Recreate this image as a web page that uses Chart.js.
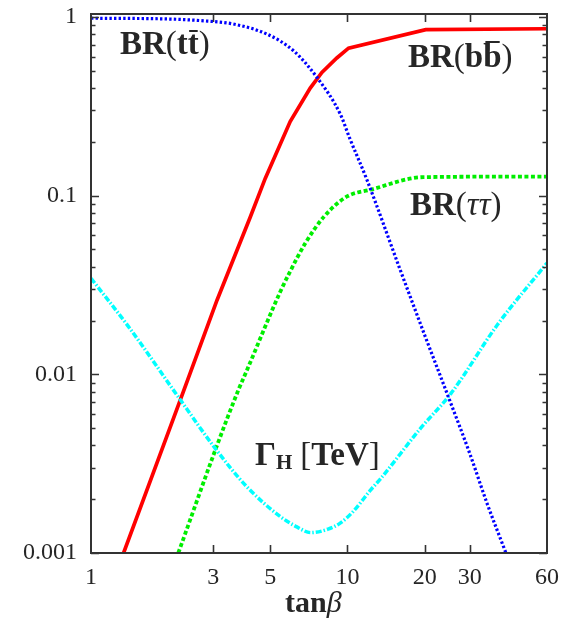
<!DOCTYPE html>
<html><head><meta charset="utf-8">
<script src="https://cdn.jsdelivr.net/npm/chart.js@4/dist/chart.umd.min.js"></script>
<style>html,body{margin:0;padding:0;background:#fff;} canvas{display:block;}</style>
</head><body>
<canvas id="c" width="575" height="618"></canvas>
<script>
// ---- tick definitions ----
const xTickValues = [1, 3, 5, 10, 20, 30, 60];
const xTickLabels = ['1', '3', '5', '10', '20', '30', '60'];
const yTickValues = [0.001, 0.01, 0.1, 1];
const yTickLabels = ['0.001', '0.01', '0.1', '1'];

// ---- series (tanβ, value) ----
const bbX  = [1.34, 2.23, 3.1, 4.18, 4.78, 5.98, 7.16, 7.95, 9.09, 10.1, 20.2, 60];
const bbY  = [0.001, 0.0072, 0.026, 0.076, 0.125, 0.26, 0.40, 0.49, 0.59, 0.67, 0.85, 0.86];

const tauX = [2.19, 3.08, 3.76, 4.05, 5.47, 5.94, 6.84, 8.08, 9.96, 12.3, 19.8, 60];
const tauY = [0.001, 0.0039, 0.0082, 0.0105, 0.029, 0.037, 0.054, 0.076, 0.099, 0.108, 0.127, 0.128];

const ttX  = [1, 2, 2.67, 3.59, 4.85, 6.16, 7.6, 9.37, 10.2, 11.93, 16, 20, 25, 30, 35, 41.5];
const ttY  = [0.985, 0.975, 0.955, 0.914, 0.803, 0.648, 0.46, 0.287, 0.21, 0.122, 0.039, 0.0166, 0.0072, 0.0036, 0.0019, 0.001];

const gamX = [1, 1.4, 2.23, 3.05, 4.05, 5.47, 6.35, 7.2, 8.4, 9.37, 10.5, 12.3, 13.45, 19.3, 25.3, 38.5, 60];
const gamY = [0.0345, 0.0185, 0.0072, 0.00385, 0.00235, 0.0016, 0.0014, 0.0013, 0.00136, 0.00147, 0.0017, 0.00225, 0.0026, 0.0050, 0.0078, 0.019, 0.042];

function pts(xs, ys) { return xs.map((x, i) => ({ x: x, y: ys[i] })); }

const TEXT = '#262626';
const SERIF = '"Liberation Serif", "DejaVu Serif", serif';

function drawRich(ctx, x, y, parts) {
  let cx = x;
  for (const p of parts) {
    ctx.font = p.font;
    const w = ctx.measureText(p.t).width;
    ctx.fillText(p.t, cx, y + (p.dy || 0));
    if (p.bar) {
      ctx.save();
      ctx.strokeStyle = TEXT;
      ctx.lineWidth = 2;
      ctx.beginPath();
      ctx.moveTo(cx + w * 0.12, y - p.bar);
      ctx.lineTo(cx + w * 0.9, y - p.bar);
      ctx.stroke();
      ctx.restore();
    }
    cx += w + (p.after || 0);
  }
}

const framePlugin = {
  id: 'frame',
  afterDraw(chart) {
    const ctx = chart.ctx;
    const a = chart.chartArea;
    const xs = chart.scales.x, ys = chart.scales.y;
    ctx.save();
    ctx.strokeStyle = '#333';
    ctx.lineWidth = 1.6;
    ctx.beginPath();
    for (const v of xTickValues) {
      const px = Math.round(xs.getPixelForValue(v)) + 0.5;
      if (px < a.left + 2 || px > a.right - 2) continue;
      ctx.moveTo(px, a.bottom); ctx.lineTo(px, a.bottom - 8);
      ctx.moveTo(px, a.top); ctx.lineTo(px, a.top + 8);
    }
    for (let d = 0; d < yTickValues.length; d++) {
      const base = yTickValues[d];
      const py = Math.round(ys.getPixelForValue(base)) + 0.5;
      ctx.moveTo(a.left, py); ctx.lineTo(a.left + 8, py);
      ctx.moveTo(a.right, py); ctx.lineTo(a.right - 8, py);
      if (d < yTickValues.length - 1) {
        for (let k = 2; k <= 9; k++) {
          const pm = Math.round(ys.getPixelForValue(base * k)) + 0.5;
          ctx.moveTo(a.left, pm); ctx.lineTo(a.left + 4.5, pm);
          ctx.moveTo(a.right, pm); ctx.lineTo(a.right - 4.5, pm);
        }
      }
    }
    ctx.stroke();
    ctx.lineWidth = 2;
    ctx.strokeRect(a.left, a.top, a.right - a.left, a.bottom - a.top);

    ctx.fillStyle = TEXT;
    ctx.textBaseline = 'alphabetic';
    ctx.textAlign = 'left';
    const B = 'bold 33px ' + SERIF;
    const R = '33px ' + SERIF;
    const I = 'italic 33px ' + SERIF;
    drawRich(ctx, 120, 54, [
      { t: 'BR', font: B }, { t: '(', font: R }, { t: 't', font: B },
      { t: 't', font: B, bar: 23 }, { t: ')', font: R }
    ]);
    drawRich(ctx, 408, 67, [
      { t: 'BR', font: B }, { t: '(', font: R }, { t: 'b', font: B },
      { t: 'b', font: B, bar: 25 }, { t: ')', font: R }
    ]);
    drawRich(ctx, 410, 215, [
      { t: 'BR', font: B }, { t: '(', font: R }, { t: '\u03C4\u03C4', font: I }, { t: ')', font: R }
    ]);
    drawRich(ctx, 255, 465, [
      { t: '\u0393', font: B }, { t: 'H', font: 'bold 21px ' + SERIF, dy: 4, after: 8 },
      { t: '[', font: R }, { t: 'TeV', font: B }, { t: ']', font: R }
    ]);
    drawRich(ctx, 285, 612, [
      { t: 'tan', font: 'bold 30px ' + SERIF }, { t: '\u03B2', font: 'italic 30px ' + SERIF }
    ]);
    ctx.restore();
  }
};

new Chart(document.getElementById('c').getContext('2d'), {
  type: 'line',
  data: {
    datasets: [
      { label: 'BR(tt)', data: pts(ttX, ttY), borderColor: '#0000ff', borderWidth: 3.2,
        borderDash: [2.4, 2.2], pointRadius: 0, cubicInterpolationMode: 'monotone', fill: false },
      { label: 'Gamma_H [TeV]', data: pts(gamX, gamY), borderColor: '#00ffff', borderWidth: 3.5,
        borderDash: [6, 2, 1.5, 2], pointRadius: 0, cubicInterpolationMode: 'monotone', fill: false },
      { label: 'BR(tautau)', data: pts(tauX, tauY), borderColor: '#00ee00', borderWidth: 3.8,
        borderDash: [4, 2.5], pointRadius: 0, cubicInterpolationMode: 'monotone', fill: false },
      { label: 'BR(bb)', data: pts(bbX, bbY), borderColor: '#ff0000', borderWidth: 3.7,
        pointRadius: 0, tension: 0, fill: false }
    ]
  },
  options: {
    responsive: false,
    animation: false,
    devicePixelRatio: 1,
    layout: { padding: { top: 14, right: 28, left: 0, bottom: 0 } },
    plugins: { legend: { display: false }, tooltip: { enabled: false } },
    scales: {
      x: {
        type: 'logarithmic', min: 1, max: 60,
        afterBuildTicks(s) { s.ticks = xTickValues.map(v => ({ value: v })); },
        afterFit(s) { s.height = 65; s.paddingLeft = 0; s.paddingRight = 0; },
        grid: { display: false, drawTicks: false },
        border: { display: false },
        ticks: { autoSkip: false, maxRotation: 0, padding: 10, color: TEXT,
          font: { family: SERIF, size: 24 },
          callback: (v, i) => xTickLabels[i] }
      },
      y: {
        type: 'logarithmic', min: 0.001, max: 1.04,
        afterBuildTicks(s) { s.ticks = yTickValues.map(v => ({ value: v })); },
        afterFit(s) { s.width = 91; s.paddingTop = 0; s.paddingBottom = 0; },
        grid: { display: false, drawTicks: false },
        border: { display: false },
        ticks: { autoSkip: false, padding: 14, color: TEXT,
          font: { family: SERIF, size: 24 },
          callback: (v, i) => yTickLabels[i] }
      }
    }
  },
  plugins: [framePlugin]
});
</script>
</body></html>
